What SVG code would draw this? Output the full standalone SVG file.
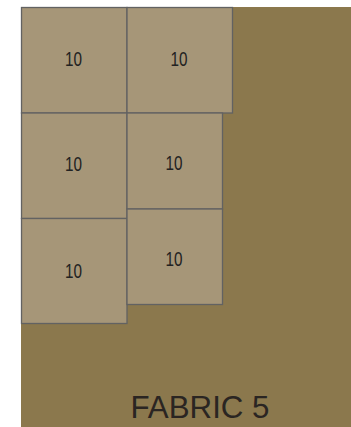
<svg xmlns="http://www.w3.org/2000/svg" width="351" height="427" viewBox="0 0 351 427">
<style>
.sq{fill:#A69678;stroke:#626262;stroke-width:1.3}
.t{font-family:"Liberation Sans",Arial,sans-serif;font-size:21px;fill:#222;text-anchor:middle}
.lbl{font-family:"Liberation Sans",Arial,sans-serif;font-size:31px;fill:#2a2522;text-anchor:middle}
</style>
<rect x="21" y="7" width="330" height="420" fill="#8B784D"/>
<g id="n1"><rect class="sq" x="21.5" y="7.5" width="105.5" height="105.5"/><text class="t" x="73.5" y="66" textLength="17" lengthAdjust="spacingAndGlyphs">10</text></g>
<g id="n2"><rect class="sq" x="127" y="7.5" width="105.5" height="105.5"/><text class="t" x="179" y="66" textLength="17" lengthAdjust="spacingAndGlyphs">10</text></g>
<g id="n3"><rect class="sq" x="21.5" y="113" width="105.5" height="105.5"/><text class="t" x="73.5" y="171" textLength="17" lengthAdjust="spacingAndGlyphs">10</text></g>
<g id="n4"><rect class="sq" x="127" y="113" width="95.5" height="96"/><text class="t" x="174" y="170" textLength="17" lengthAdjust="spacingAndGlyphs">10</text></g>
<g id="n5"><rect class="sq" x="21.5" y="218.5" width="105.5" height="105"/><text class="t" x="73.5" y="278" textLength="17" lengthAdjust="spacingAndGlyphs">10</text></g>
<g id="n6"><rect class="sq" x="127" y="209" width="95.5" height="95.5"/><text class="t" x="174" y="266" textLength="17" lengthAdjust="spacingAndGlyphs">10</text></g>
<g id="connectors"/>
<text class="lbl" x="200" y="418" textLength="139" lengthAdjust="spacingAndGlyphs">FABRIC 5</text>
</svg>
